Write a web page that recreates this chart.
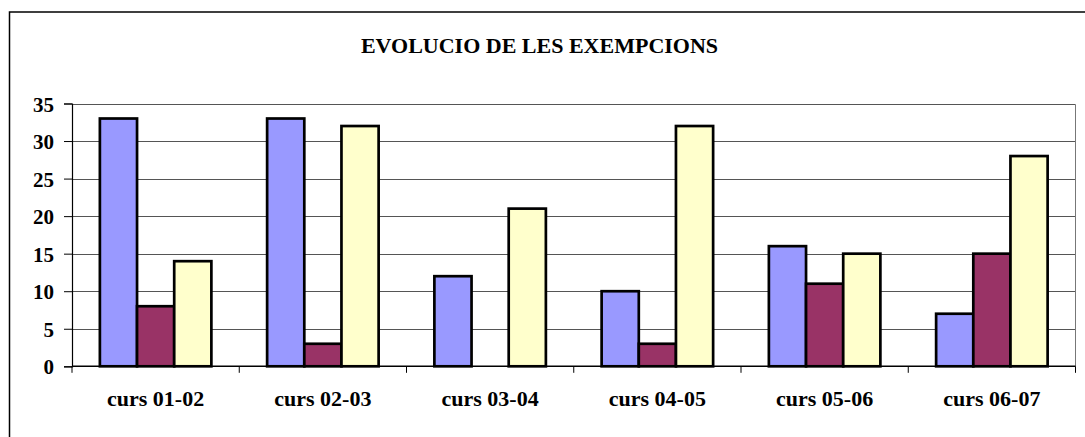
<!DOCTYPE html>
<html>
<head>
<meta charset="utf-8">
<script src="https://cdn.jsdelivr.net/npm/d3@7"></script>
<style>
  body { margin: 0; background: #fff; }
</style>
</head>
<body>
<div id="chart"></div>
<script>
const categories = ['curs 01-02', 'curs 02-03', 'curs 03-04', 'curs 04-05', 'curs 05-06', 'curs 06-07']
const seriesA = [33, 33, 12, 10, 16, 7]
const seriesB = [8, 3, 0, 3, 11, 15]
const seriesC = [14, 32, 21, 32, 15, 28]
const yTicks = [0, 5, 10, 15, 20, 25, 30, 35]
const title = 'EVOLUCIO DE LES EXEMPCIONS'

const series = [
  { key: 'a', values: seriesA, color: '#9999ff' },
  { key: 'b', values: seriesB, color: '#993366' },
  { key: 'c', values: seriesC, color: '#ffffcc' },
]

const FONT = '"Liberation Serif", "Times New Roman", serif'
const width = 1085
const height = 437
const plot = { left: 72, top: 103.5, right: 1075.5, bottom: 366.3 }

const svg = d3
  .select('#chart')
  .append('svg')
  .attr('width', width)
  .attr('height', height)
  .attr('font-family', FONT)
  .attr('font-weight', 'bold')

// outer chart frame (cut off at right and bottom like the picture)
svg
  .append('rect')
  .attr('x', 9.5)
  .attr('y', 12)
  .attr('width', 1085)
  .attr('height', 440)
  .attr('fill', 'none')
  .attr('stroke', '#000')
  .attr('stroke-width', 1.5)

svg
  .append('text')
  .attr('x', 539.5)
  .attr('y', 53)
  .attr('text-anchor', 'middle')
  .attr('font-size', 22)
  .text(title)

const x = d3
  .scaleBand()
  .domain(categories)
  .range([plot.left, plot.right])

// excel style gap width 150%
const barW = x.bandwidth() / 4.5
const xInner = d3
  .scaleBand()
  .domain(series.map(s => s.key))
  .range([barW * 0.75, barW * 3.75])

const y = d3
  .scaleLinear()
  .domain([0, 35])
  .range([plot.bottom, plot.top])

// gridlines
svg
  .append('g')
  .selectAll('line')
  .data(yTicks.filter(t => t > 0))
  .join('line')
  .attr('x1', plot.left)
  .attr('x2', plot.right)
  .attr('y1', d => Math.round(y(d)) + 0.5)
  .attr('y2', d => Math.round(y(d)) + 0.5)
  .attr('stroke', '#555')
  .attr('stroke-width', 1)

// right edge of plot area
svg
  .append('line')
  .attr('x1', plot.right)
  .attr('x2', plot.right)
  .attr('y1', Math.round(plot.top) + 0.5)
  .attr('y2', plot.bottom)
  .attr('stroke', '#777')

// bars
const groups = svg
  .append('g')
  .selectAll('g')
  .data(series)
  .join('g')

groups
  .selectAll('rect')
  .data(s => s.values.map((v, i) => ({ v, cat: categories[i], s })))
  .join('rect')
  .filter(d => d.v > 0)
  .attr('x', d => x(d.cat) + xInner(d.s.key))
  .attr('width', xInner.bandwidth())
  .attr('y', d => y(d.v))
  .attr('height', d => y(0) - y(d.v))
  .attr('fill', d => d.s.color)
  .attr('stroke', '#000')
  .attr('stroke-width', 2.7)

// y axis
const yAxis = d3
  .axisLeft(y)
  .tickValues(yTicks)
  .tickSize(8)
  .tickPadding(10)

svg
  .append('g')
  .attr('transform', `translate(${plot.left},0)`)
  .call(yAxis)
  .attr('font-family', FONT)
  .attr('font-size', 21)
  .attr('font-weight', 'bold')
  .call(g => g.select('.domain').attr('stroke-width', 1.2))
  .call(g => g.selectAll('text').attr('dy', '0.36em'))

// x axis, ticks at category boundaries
svg
  .append('line')
  .attr('x1', plot.left)
  .attr('x2', plot.right)
  .attr('y1', plot.bottom)
  .attr('y2', plot.bottom)
  .attr('stroke', '#000')
  .attr('stroke-width', 1.5)

const boundaries = categories.map(c => x(c)).concat([plot.right])
svg
  .append('g')
  .selectAll('line')
  .data(boundaries)
  .join('line')
  .attr('x1', d => d)
  .attr('x2', d => d)
  .attr('y1', plot.bottom)
  .attr('y2', plot.bottom + 6.5)
  .attr('stroke', '#000')

svg
  .append('g')
  .selectAll('text')
  .data(categories)
  .join('text')
  .attr('x', d => x(d) + x.bandwidth() / 2)
  .attr('y', 406)
  .attr('text-anchor', 'middle')
  .attr('font-size', 22)
  .text(d => d)
</script>
</body>
</html>
